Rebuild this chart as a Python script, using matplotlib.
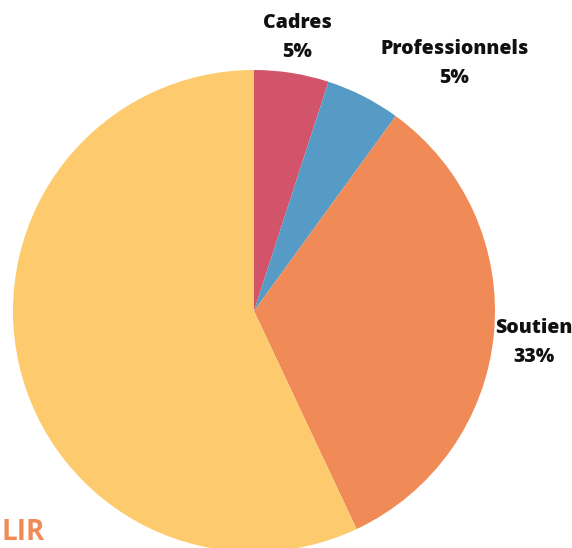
import numpy as np
import matplotlib.pyplot as plt

categories = ['Cadres', 'Professionnels', 'Soutien', 'Autres']
shares = [5, 5, 33, 57]
colors = ['#D1546A', '#559BC6', '#F08A56', '#FDCB6E']
show_label = [True, True, True, False]

plt.rcParams['font.family'] = ['Open Sans', 'DejaVu Sans']

W, H = 572, 548
fig = plt.figure(figsize=(W / 100, H / 100), dpi=100)
ax = fig.add_axes([0, 0, 1, 1])

cx, cy, r = 254, H - 311, 241
ax.pie(shares, colors=colors, startangle=90, counterclock=False,
       center=(cx, cy), radius=r, frame=True,
       wedgeprops=dict(linewidth=0))
ax.set_xlim(0, W)
ax.set_ylim(0, H)
ax.axis('off')

# label placement: extra angle (deg, clockwise) and distance factor per slice
label_shift = [0, 12, 1.0, 0]
label_dist = [1.15, 1.32, 1.17, 1.2]

start = 0
for cat, val, show, sh, d in zip(categories, shares, show_label, label_shift, label_dist):
    mid = start + val / 100 * 360 / 2 + sh
    start += val / 100 * 360
    if not show:
        continue
    a = np.deg2rad(mid)
    x = cx + r * d * np.sin(a)
    y = cy + r * d * np.cos(a)
    ax.text(x, y, f'{cat}\n{val}%', ha='center', va='center',
            fontsize=14, fontweight='heavy', color='#111111', linespacing=1.6)

ax.text(1, 1, 'LIR', ha='left', va='bottom', fontsize=20,
        fontweight='bold', color='#F08A56', fontstretch='condensed')

fig.savefig('out.png', dpi=100)
